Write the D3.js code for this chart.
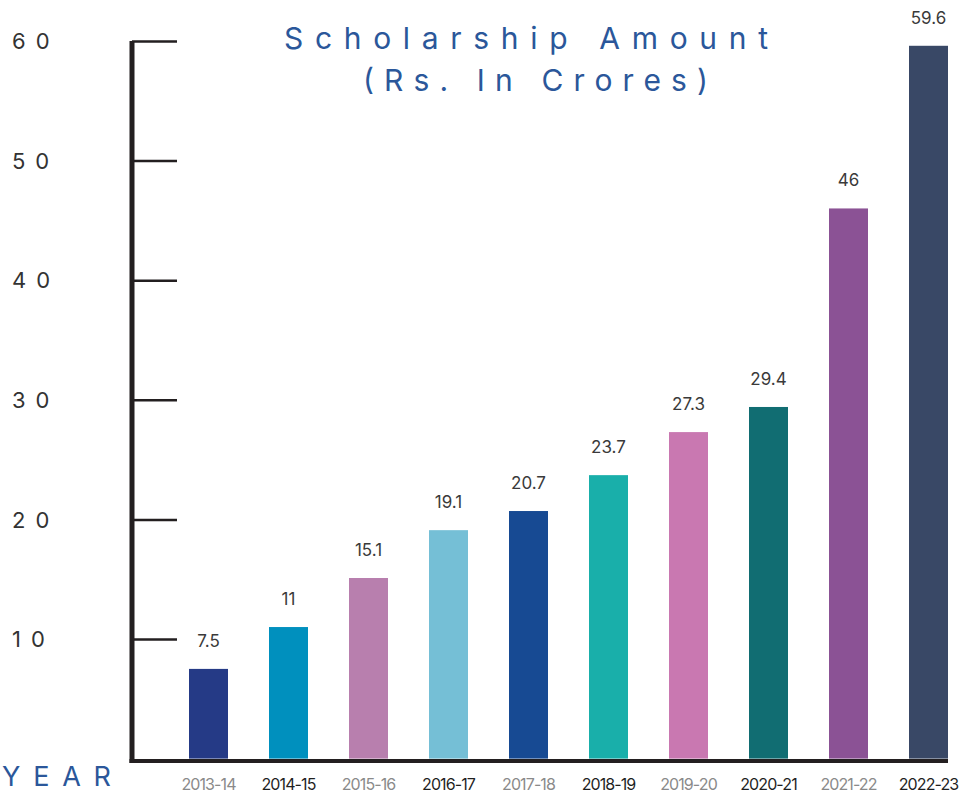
<!DOCTYPE html>
<html>
<head>
<meta charset="utf-8">
<script src="https://cdn.jsdelivr.net/npm/d3@7"></script>
<style>
  body { margin: 0; background: #fff; }
  #graf { width: 960px; height: 794px; }
  text { font-family: Inter, "Open Sans", sans-serif; }
</style>
</head>
<body>
<div id="graf"></div>
<script>
// I. Datos
years  = ['2013-14', '2014-15', '2015-16', '2016-17', '2017-18', '2018-19', '2019-20', '2020-21', '2021-22', '2022-23']
amount = [7.5, 11, 15.1, 19.1, 20.7, 23.7, 27.3, 29.4, 46, 59.6]
barColors = ['#253a86', '#0090be', '#b87fae', '#75bfd6', '#174a93', '#19afaa', '#c978b1', '#116d72', '#8b5295', '#394866']
yTicks = [10, 20, 30, 40, 50, 60]

// II. Configuración
ancho_total = 960
alto_total = 794

svg = d3.select('#graf').append('svg')
        .attr('width', ancho_total)
        .attr('height', alto_total)

ejeX = 132     // posición del eje vertical
base = 758.6   // y del valor 0

y = d3.scaleLinear()
      .domain([0, 60])
      .range([base, 41])

x = d3.scaleBand()
      .domain(years)
      .range([168.5, 968.5])
      .paddingInner(0.5125)
      .paddingOuter(0.25625)

// título
titulo = svg.append('g').attr('fill', '#2b579a')
titulo.append('text')
      .attr('x', 284).attr('y', 49)
      .attr('font-size', '30px')
      .attr('textLength', 484)
      .attr('lengthAdjust', 'spacing')
      .text('Scholarship Amount')
titulo.append('text')
      .attr('x', 363).attr('y', 91)
      .attr('font-size', '30px')
      .attr('textLength', 345)
      .attr('lengthAdjust', 'spacing')
      .text('(Rs. In Crores)')

// III. Barras
svg.selectAll('rect.bar')
   .data(amount)
   .enter()
   .append('rect')
     .attr('class', 'bar')
     .attr('x', (d, i) => x(years[i]))
     .attr('width', x.bandwidth())
     .attr('y', d => y(d))
     .attr('height', d => base - y(d))
     .attr('fill', (d, i) => barColors[i])

svg.selectAll('text.valor')
   .data(amount)
   .enter()
   .append('text')
     .attr('class', 'valor')
     .attr('x', (d, i) => x(years[i]) + x.bandwidth() / 2)
     .attr('y', d => y(d) - 22)
     .attr('text-anchor', 'middle')
     .attr('font-size', '17px')
     .attr('fill', '#3a3a3a')
     .text(d => d)

// IV. Ejes
yAxisGroup = svg.append('g')
                .attr('transform', `translate(${ejeX}, 0)`)
yAxisGroup.call(d3.axisLeft(y).tickValues(yTicks).tickSizeInner(-45).tickSizeOuter(0))
yAxisGroup.select('.domain').remove()
yAxisGroup.selectAll('.tick line')
          .attr('stroke', '#231f20')
          .attr('stroke-width', 2.5)
yAxisGroup.selectAll('.tick text')
          .attr('x', -120)
          .attr('dy', '0.35em')
          .attr('text-anchor', 'start')
          .attr('font-size', '22px')
          .attr('font-family', 'Inter, sans-serif')
          .attr('letter-spacing', '10px')
          .attr('fill', '#333')

xAxisGroup = svg.append('g')
                .attr('transform', `translate(0, ${base})`)
xAxisGroup.call(d3.axisBottom(x).tickSize(0))
xAxisGroup.select('.domain').remove()
xAxisGroup.selectAll('.tick text')
          .attr('y', 31)
          .attr('dy', 0)
          .attr('font-size', '16px')
          .attr('font-family', 'Inter, sans-serif')
          .attr('letter-spacing', '-0.9px')
          .attr('fill', (d, i) => i % 2 === 0 ? '#8a8a8a' : '#1f1f1f')

// líneas gruesas de los ejes
svg.append('line')
   .attr('x1', ejeX).attr('x2', ejeX)
   .attr('y1', 41).attr('y2', 763)
   .attr('stroke', '#231f20')
   .attr('stroke-width', 5)
svg.append('line')
   .attr('x1', ejeX - 2.5).attr('x2', x(years[years.length - 1]) + x.bandwidth())
   .attr('y1', 761).attr('y2', 761)
   .attr('stroke', '#231f20')
   .attr('stroke-width', 4)

// etiqueta del eje x
svg.append('text')
   .attr('x', 2).attr('y', 786)
   .attr('font-size', '27px')
   .attr('fill', '#2b579a')
   .attr('textLength', 109)
   .attr('lengthAdjust', 'spacing')
   .text('YEAR')
</script>
</body>
</html>
